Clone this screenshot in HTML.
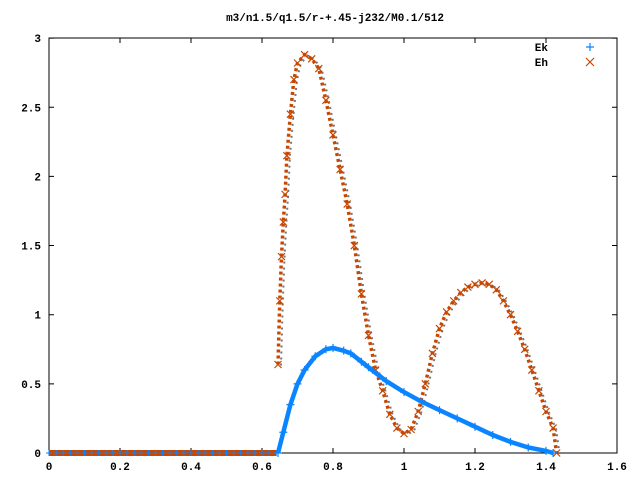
<!DOCTYPE html>
<html><head><meta charset="utf-8"><style>
body{margin:0;background:#fff}
svg{display:block}
text{font-family:"Liberation Mono",monospace;font-size:11px;font-weight:bold;fill:#000}
</style></head><body>
<svg id="c" width="640" height="480" xmlns="http://www.w3.org/2000/svg">
<text x="335" y="21" text-anchor="middle">m3/n1.5/q1.5/r-+.45-j232/M0.1/512</text>
<g id="axes"></g>
<g id="plot"></g>
<g>
<text x="548" y="51" text-anchor="end">Ek</text>
<text x="548" y="66" text-anchor="end">Eh</text>
<path d="M586 47h8M590 43v8" stroke="#0a84ff" stroke-width="1.2"/>
<path d="M586 58l8 8M594 58l-8 8" stroke="#c84600" stroke-width="1.2"/>
</g>
</svg>
<script>
const xTicks=[0,0.2,0.4,0.6,0.8,1,1.2,1.4,1.6];
const xTickLabels=["0","0.2","0.4","0.6","0.8","1","1.2","1.4","1.6"];
const yTicks=[0,0.5,1,1.5,2,2.5,3];
const yTickLabels=["0","0.5","1","1.5","2","2.5","3"];
const zeroX=[0,0.02,0.04,0.06,0.08,0.1,0.12,0.14,0.16,0.18,0.2,0.22,0.24,0.26,0.28,0.3,0.32,0.34,0.36,0.38,0.4,0.42,0.44,0.46,0.48,0.5,0.52,0.54,0.56,0.58,0.6,0.62,0.64];
const ekX=[0.645,0.66,0.68,0.7,0.72,0.75,0.78,0.8,0.83,0.85,0.88,0.9,0.95,1.0,1.05,1.1,1.15,1.2,1.25,1.3,1.35,1.4,1.42];
const ekY=[0,0.15,0.35,0.5,0.6,0.7,0.75,0.76,0.74,0.72,0.66,0.62,0.52,0.44,0.37,0.31,0.25,0.19,0.13,0.08,0.04,0.015,0];
const ehX=[0.645,0.65,0.655,0.66,0.665,0.67,0.68,0.69,0.7,0.72,0.74,0.76,0.78,0.8,0.82,0.84,0.86,0.88,0.9,0.92,0.94,0.96,0.98,1.0,1.02,1.04,1.06,1.08,1.1,1.12,1.14,1.16,1.18,1.2,1.22,1.24,1.26,1.28,1.3,1.32,1.34,1.36,1.38,1.4,1.42,1.43];
const ehY=[0.64,1.1,1.42,1.67,1.87,2.15,2.45,2.7,2.82,2.88,2.85,2.78,2.55,2.3,2.05,1.8,1.5,1.15,0.85,0.6,0.45,0.28,0.18,0.14,0.17,0.3,0.5,0.72,0.9,1.02,1.1,1.16,1.2,1.22,1.23,1.22,1.18,1.1,1.0,0.88,0.75,0.6,0.45,0.3,0.18,0];
const X0=49,XS=355,Y0=453,YS=138.3,XR=617,YT=38;
const sx=v=>X0+v*XS, sy=v=>Y0-v*YS;
const NS="http://www.w3.org/2000/svg";
function mk(tag,attrs,parent){const e=document.createElementNS(NS,tag);for(const k in attrs)e.setAttribute(k,attrs[k]);parent.appendChild(e);return e;}
const ax=document.getElementById('axes'),pl=document.getElementById('plot');
const frame=mk('rect',{x:X0,y:YT,width:XR-X0,height:Y0-YT,fill:'none',stroke:'#000','stroke-width':1},ax);


xTicks.forEach((t,i)=>{
 const l=mk('path',{d:`M${sx(t)} ${Y0}v-5M${sx(t)} ${YT}v5`,stroke:'#000'},ax);
 
 
 const tx=mk('text',{x:sx(t),y:Y0+17,'text-anchor':'middle'},ax);tx.textContent=xTickLabels[i];
 
 
});
yTicks.forEach((t,i)=>{
 const l=mk('path',{d:`M${X0} ${sy(t)}h5M${XR} ${sy(t)}h-5`,stroke:'#000'},ax);
 
 
 const tx=mk('text',{x:X0-8,y:sy(t)+4,'text-anchor':'end'},ax);tx.textContent=yTickLabels[i];
 
 
});
function path(xs,ys){return xs.map((x,i)=>(i?'L':'M')+sx(x).toFixed(1)+' '+sy(ys[i]).toFixed(1)).join('');}
const zl=mk('path',{d:`M${sx(zeroX[0])} ${sy(0)}H${sx(zeroX[zeroX.length-1])}`,stroke:'#c84600','stroke-width':6},pl);


zeroX.forEach(x=>{
 const m=mk('path',{d:`M${sx(x)-3} ${sy(0)}h6M${sx(x)} ${sy(0)-3}v6`,stroke:'#0a84ff'},pl);
 
 
});
const gl=mk('path',{d:path(ehX,ehY),fill:'none',stroke:'#777','stroke-width':2,'stroke-dasharray':'2 4',transform:'translate(3,1)'},pl);


const el=mk('path',{d:path(ehX,ehY),fill:'none',stroke:'#c84600','stroke-width':3.5,'stroke-dasharray':'3 3'},pl);


ehX.forEach((x,i)=>{
 const cx=sx(x),cy=sy(ehY[i]);
 const m=mk('path',{d:`M${cx-3.5} ${cy-3.5}l7 7M${cx+3.5} ${cy-3.5}l-7 7`,stroke:'#c84600','stroke-width':1.2},pl);
 
 
});
const kl=mk('path',{d:path(ekX,ekY),fill:'none',stroke:'#0a84ff','stroke-width':4.5},pl);


ekX.forEach((x,i)=>{
 const cx=sx(x),cy=sy(ekY[i]);
 const m=mk('path',{d:`M${cx-4} ${cy}h8M${cx} ${cy-4}v8`,stroke:'#0a84ff','stroke-width':1.2},pl);
 
 
});
</script>
</body></html>
